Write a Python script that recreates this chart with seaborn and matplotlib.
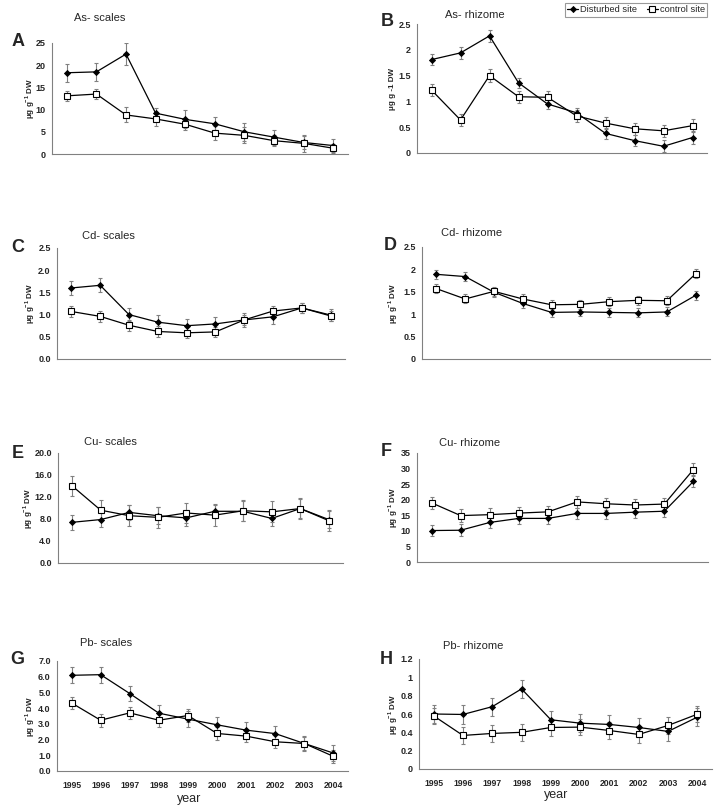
import numpy as np
import pandas as pd
import matplotlib
matplotlib.use("Agg")
import matplotlib.pyplot as plt
import seaborn as sns

# -------------------------------
# Data (mean and error bar half-length)
# -------------------------------
years = ["1995", "1996", "1997", "1998", "1999", "2000", "2001", "2002", "2003", "2004"]

as_scales_dist = [18.3, 18.5, 22.5, 9.2, 7.8, 6.8, 5.0, 3.8, 2.6, 1.9]
as_scales_dist_err = [2.0, 2.0, 2.5, 1.1, 2.0, 1.5, 2.0, 1.7, 1.5, 1.4]
as_scales_ctrl = [13.1, 13.5, 8.8, 7.9, 6.7, 4.7, 4.2, 3.0, 2.4, 1.3]
as_scales_ctrl_err = [1.2, 1.2, 1.7, 1.5, 1.2, 1.5, 1.8, 1.2, 1.9, 1.0]

as_rhiz_dist = [1.81, 1.94, 2.27, 1.36, 0.95, 0.78, 0.38, 0.24, 0.13, 0.30]
as_rhiz_dist_err = [0.11, 0.11, 0.11, 0.10, 0.10, 0.10, 0.11, 0.10, 0.12, 0.12]
as_rhiz_ctrl = [1.22, 0.64, 1.50, 1.09, 1.08, 0.72, 0.58, 0.47, 0.43, 0.53]
as_rhiz_ctrl_err = [0.12, 0.12, 0.12, 0.12, 0.12, 0.12, 0.12, 0.12, 0.12, 0.12]

cd_scales_dist = [1.60, 1.66, 1.00, 0.83, 0.75, 0.79, 0.88, 0.95, 1.15, 0.99]
cd_scales_dist_err = [0.16, 0.16, 0.15, 0.16, 0.16, 0.16, 0.15, 0.17, 0.12, 0.14]
cd_scales_ctrl = [1.07, 0.96, 0.76, 0.62, 0.59, 0.61, 0.88, 1.08, 1.15, 0.97]
cd_scales_ctrl_err = [0.12, 0.12, 0.12, 0.12, 0.12, 0.12, 0.12, 0.12, 0.12, 0.12]

cd_rhiz_dist = [1.89, 1.84, 1.49, 1.24, 1.04, 1.05, 1.04, 1.03, 1.05, 1.42]
cd_rhiz_dist_err = [0.10, 0.10, 0.10, 0.10, 0.10, 0.10, 0.10, 0.10, 0.10, 0.10]
cd_rhiz_ctrl = [1.57, 1.34, 1.51, 1.34, 1.21, 1.22, 1.28, 1.31, 1.30, 1.90]
cd_rhiz_ctrl_err = [0.10, 0.10, 0.10, 0.10, 0.10, 0.10, 0.10, 0.10, 0.10, 0.10]

cu_scales_dist = [7.4, 7.9, 9.2, 8.6, 8.2, 9.4, 9.4, 8.1, 9.9, 7.9]
cu_scales_dist_err = [1.4, 1.4, 1.4, 1.5, 1.4, 1.3, 1.8, 1.4, 1.8, 1.6]
cu_scales_ctrl = [14.0, 9.6, 8.6, 8.3, 9.1, 8.7, 9.5, 9.3, 9.9, 7.7]
cu_scales_ctrl_err = [1.9, 1.9, 1.9, 1.9, 1.9, 1.9, 1.9, 1.9, 1.9, 1.9]

cu_rhiz_dist = [10.1, 10.2, 12.7, 14.0, 14.0, 15.6, 15.6, 16.0, 16.3, 25.9]
cu_rhiz_dist_err = [1.9, 1.9, 1.9, 1.9, 1.9, 1.9, 1.9, 1.9, 1.9, 1.9]
cu_rhiz_ctrl = [19.0, 14.9, 15.2, 15.7, 16.1, 19.3, 18.7, 18.3, 18.6, 29.7]
cu_rhiz_ctrl_err = [2.0, 2.0, 2.0, 2.0, 2.0, 2.0, 2.0, 2.0, 2.0, 2.0]

pb_scales_dist = [6.09, 6.13, 4.93, 3.68, 3.30, 2.94, 2.60, 2.38, 1.75, 1.14]
pb_scales_dist_err = [0.5, 0.5, 0.5, 0.5, 0.5, 0.5, 0.5, 0.5, 0.5, 0.5]
pb_scales_ctrl = [4.33, 3.23, 3.70, 3.23, 3.53, 2.39, 2.22, 1.86, 1.75, 0.93]
pb_scales_ctrl_err = [0.4, 0.4, 0.4, 0.4, 0.4, 0.4, 0.4, 0.4, 0.4, 0.4]

pb_rhiz_dist = [0.60, 0.595, 0.68, 0.874, 0.537, 0.50, 0.486, 0.453, 0.41, 0.566]
pb_rhiz_dist_err = [0.10, 0.10, 0.10, 0.10, 0.10, 0.10, 0.10, 0.10, 0.10, 0.10]
pb_rhiz_ctrl = [0.58, 0.366, 0.388, 0.40, 0.453, 0.457, 0.42, 0.377, 0.475, 0.598]
pb_rhiz_ctrl_err = [0.09, 0.09, 0.09, 0.09, 0.09, 0.09, 0.09, 0.09, 0.09, 0.09]

# y tick labels as printed on each panel
as_scales_yticks = ["0", "5", "10", "15", "20", "25"]
as_rhiz_yticks = ["0", "0.5", "1", "1.5", "2", "2.5"]
cd_scales_yticks = ["0.0", "0.5", "1.0", "1.5", "2.0", "2.5"]
cd_rhiz_yticks = ["0", "0.5", "1", "1.5", "2", "2.5"]
cu_scales_yticks = ["0.0", "4.0", "8.0", "12.0", "16.0", "20.0"]
cu_rhiz_yticks = ["0", "5", "10", "15", "20", "25", "30", "35"]
pb_scales_yticks = ["0.0", "1.0", "2.0", "3.0", "4.0", "5.0", "6.0", "7.0"]
pb_rhiz_yticks = ["0", "0.2", "0.4", "0.6", "0.8", "1", "1.2"]

panel_letters = ["A", "B", "C", "D", "E", "F", "G", "H"]
panel_titles = ["As- scales", "As- rhizome", "Cd- scales", "Cd- rhizome",
                "Cu- scales", "Cu- rhizome", "Pb- scales", "Pb- rhizome"]
unit_label = r"μg g$^{\mathbf{-1}}$ DW"
unit_label_b = "μg g -1 DW"

panel_data = [
    (as_scales_dist, as_scales_dist_err, as_scales_ctrl, as_scales_ctrl_err, as_scales_yticks),
    (as_rhiz_dist, as_rhiz_dist_err, as_rhiz_ctrl, as_rhiz_ctrl_err, as_rhiz_yticks),
    (cd_scales_dist, cd_scales_dist_err, cd_scales_ctrl, cd_scales_ctrl_err, cd_scales_yticks),
    (cd_rhiz_dist, cd_rhiz_dist_err, cd_rhiz_ctrl, cd_rhiz_ctrl_err, cd_rhiz_yticks),
    (cu_scales_dist, cu_scales_dist_err, cu_scales_ctrl, cu_scales_ctrl_err, cu_scales_yticks),
    (cu_rhiz_dist, cu_rhiz_dist_err, cu_rhiz_ctrl, cu_rhiz_ctrl_err, cu_rhiz_yticks),
    (pb_scales_dist, pb_scales_dist_err, pb_scales_ctrl, pb_scales_ctrl_err, pb_scales_yticks),
    (pb_rhiz_dist, pb_rhiz_dist_err, pb_rhiz_ctrl, pb_rhiz_ctrl_err, pb_rhiz_yticks),
]

# -------------------------------
# Layout (pixels in a 720 x 806 image)
# -------------------------------
W, H = 720, 806
axes_px = [(52, 43, 348, 154), (417, 24, 707, 153),
           (57, 248, 345, 359), (422, 247, 710, 359),
           (58, 453, 343, 563), (417, 453, 708, 562),
           (57, 661, 348, 771), (419, 659, 712, 769)]
letter_px = [(18, 42), (387, 21), (18, 248), (390, 246),
             (18, 453), (386, 452), (17, 660), (386, 659)]
title_px = [(100, 18), (475, 15), (108, 236), (472, 233),
            (110, 442), (470, 443), (106, 643), (473, 646)]
ylabel_off = [22, 24, 27, 29, 30, 24, 27, 26]

sns.set_style("white")
plt.rcParams["font.family"] = ["Liberation Sans", "DejaVu Sans"]
plt.rcParams["mathtext.fontset"] = "custom"
plt.rcParams["mathtext.rm"] = "Liberation Sans"
plt.rcParams["mathtext.bf"] = "Liberation Sans:bold"

GREY = "#808080"


def fx(x):
    return x / W


def fy(y):
    return 1 - y / H


fig = plt.figure(figsize=(7.2, 8.06), dpi=100)
fig.patch.set_facecolor("white")

axes = []
for i, (dist, dist_err, ctrl, ctrl_err, ytl) in enumerate(panel_data):
    l, t, r, b = axes_px[i]
    ax = fig.add_axes([fx(l), fy(b), (r - l) / W, (b - t) / H])
    axes.append(ax)
    pos = np.arange(len(years))

    df = pd.DataFrame({"pos": pos, "dist": dist, "ctrl": ctrl})

    ax.errorbar(pos, dist, yerr=dist_err, fmt="none", ecolor=GREY,
                elinewidth=0.8, capsize=1.6, capthick=0.8, zorder=1)
    ax.errorbar(pos, ctrl, yerr=ctrl_err, fmt="none", ecolor=GREY,
                elinewidth=0.8, capsize=1.6, capthick=0.8, zorder=1)

    sns.lineplot(data=df, x="pos", y="dist", ax=ax, color="black", lw=0.9,
                 marker="D", markersize=3.1, markerfacecolor="black",
                 markeredgecolor="black", markeredgewidth=0.6,
                 label="Disturbed site", legend=False, zorder=3)
    sns.lineplot(data=df, x="pos", y="ctrl", ax=ax, color="black", lw=0.9,
                 marker="s", markersize=5, markerfacecolor="white",
                 markeredgecolor="black", markeredgewidth=0.8,
                 label="control site", legend=False, zorder=4)

    top = float(ytl[-1])
    ax.set_ylim(0, top)
    ax.set_yticks(np.linspace(0, top, len(ytl)))
    ax.set_yticklabels(ytl, fontsize=6.5, fontweight="bold")
    ax.set_xlim(-0.5, len(years) - 0.5)
    ax.set_xticks(np.arange(len(years) + 1) - 0.5)
    ax.set_xticklabels([])
    ax.set_xticks(pos, minor=True)
    if i >= 6:
        ax.set_xticklabels(years, minor=True, fontsize=6.2, fontweight="bold")
    ax.tick_params(axis="x", which="major", direction="out", length=3,
                   width=0.8, color=GREY)
    ax.tick_params(axis="x", which="minor", length=0, pad=7)
    ax.tick_params(axis="y", direction="out", length=3, width=0.8,
                   color=GREY, pad=1.5)
    ax.set_xlabel("")
    ax.set_ylabel("")
    for side in ["top", "right"]:
        ax.spines[side].set_visible(False)
    for side in ["left", "bottom"]:
        ax.spines[side].set_color(GREY)
        ax.spines[side].set_linewidth(0.8)
    ax.set_facecolor("white")

    # y label, letter and title
    lab = unit_label_b if i == 1 else unit_label
    fig.text(fx(l - ylabel_off[i]), fy((t + b) / 2), lab, rotation=90,
             ha="center", va="center", fontsize=5.8, fontweight="bold")
    lx, ly = letter_px[i]
    fig.text(fx(lx), fy(ly), panel_letters[i], ha="center", va="center",
             fontsize=13, fontweight="bold")
    tx, ty = title_px[i]
    fig.text(fx(tx), fy(ty), panel_titles[i], ha="center", va="center",
             fontsize=8)

# x axis titles under the bottom panels
fig.text(fx(189), fy(799), "year", ha="center", va="center", fontsize=9)
fig.text(fx(556), fy(795), "year", ha="center", va="center", fontsize=9)

# legend at the top right
handles, labels = axes[1].get_legend_handles_labels()
leg = fig.legend(handles, labels, loc="upper right",
                 bbox_to_anchor=(fx(707), fy(3)), ncol=2, fontsize=6.7,
                 frameon=True, fancybox=False, borderpad=0.25,
                 handlelength=1.2, handletextpad=0.2, columnspacing=1.0,
                 borderaxespad=0)
leg.get_frame().set_edgecolor(GREY)
leg.get_frame().set_linewidth(0.8)

fig.savefig("out.png", dpi=100, facecolor="white")
